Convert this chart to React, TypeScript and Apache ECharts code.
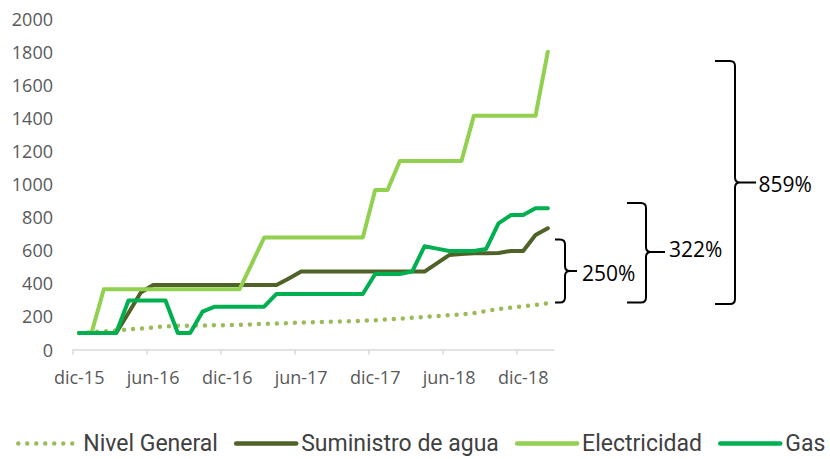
import React, { useEffect, useRef } from 'react';
import * as echarts from 'echarts';

const months = [
  'dic-15', 'ene-16', 'feb-16', 'mar-16', 'abr-16', 'may-16', 'jun-16', 'jul-16', 'ago-16', 'sep-16', 'oct-16', 'nov-16',
  'dic-16', 'ene-17', 'feb-17', 'mar-17', 'abr-17', 'may-17', 'jun-17', 'jul-17', 'ago-17', 'sep-17', 'oct-17', 'nov-17',
  'dic-17', 'ene-18', 'feb-18', 'mar-18', 'abr-18', 'may-18', 'jun-18', 'jul-18', 'ago-18', 'sep-18', 'oct-18', 'nov-18',
  'dic-18', 'ene-19', 'feb-19',
];

const nivelGeneral = [
  100, 104, 110, 116, 122, 127, 133, 140, 143, 144, 145, 146,
  147, 149, 152, 155, 157, 160, 163, 165, 167, 169, 171, 174,
  177, 182, 187, 192, 197, 202, 207, 211, 220, 232, 245, 253,
  262, 270, 279,
];

const suministroAgua = [
  100, 100, 100, 100, 221, 345, 390, 390, 390, 390, 390, 390,
  390, 390, 390, 390, 390, 430, 471, 471, 471, 471, 471, 471,
  471, 471, 471, 471, 471, 521, 571, 578, 582, 582, 584, 596,
  596, 692, 733,
];

const electricidad = [
  100, 100, 364, 364, 364, 364, 364, 364, 364, 364, 364, 364,
  364, 364, 520, 677, 677, 677, 677, 677, 677, 677, 677, 677,
  965, 965, 1140, 1140, 1140, 1140, 1140, 1140, 1413, 1413, 1413, 1413,
  1413, 1413, 1801,
];

const gas = [
  100, 100, 100, 100, 296, 296, 296, 296, 100, 100, 229, 259,
  259, 259, 259, 259, 336, 336, 336, 336, 336, 336, 336, 336,
  457, 457, 457, 471, 624, 610, 596, 596, 596, 608, 763, 813,
  813, 854, 854,
];

const seriesNames = ['Nivel General', 'Suministro de agua', 'Electricidad', 'Gas'];
const seriesData = [nivelGeneral, suministroAgua, electricidad, gas];
const seriesColors = ['#9bbb59', '#4f6228', '#92d050', '#00b050'];

const yTicks = [0, 200, 400, 600, 800, 1000, 1200, 1400, 1600, 1800, 2000];
const labelMonths = [0, 6, 12, 18, 24, 30, 36];

const braceLabels = ['250%', '322%', '859%'];

function bracePath(xl: number, xv: number, xt: number, yt: number, ym: number, yb: number, r = 5) {
  return [
    `M${xl},${yt}`,
    `L${xv - r},${yt}`,
    `Q${xv},${yt} ${xv},${yt + r}`,
    `L${xv},${ym - r}`,
    `Q${xv},${ym} ${xv + r},${ym}`,
    `L${xt},${ym}`,
    `M${xv + r},${ym}`,
    `Q${xv},${ym} ${xv},${ym + r}`,
    `L${xv},${yb - r}`,
    `Q${xv},${yb} ${xv - r},${yb}`,
    `L${xl},${yb}`,
  ].join(' ');
}

const braceLayout = [
  { xl: 555, xv: 565, xt: 577, yt: 239.5, ym: 271, yb: 302.5, lx: 582, ly: 272.5 },
  { xl: 627, xv: 646, xt: 665, yt: 203, ym: 252, yb: 302.5, lx: 669, ly: 249 },
  { xl: 715, xv: 735, xt: 756, yt: 61, ym: 182.5, yb: 304, lx: 758.5, ly: 183.5 },
];

braceLayout.forEach((b, i) => {
  echarts.graphic.registerShape(
    'brace' + i,
    echarts.graphic.extendPath(bracePath(b.xl, b.xv, b.xt, b.yt, b.ym, b.yb), {})
  );
});

export default function App() {
  const ref = useRef<HTMLDivElement>(null);

  useEffect(() => {
    if (!ref.current) return;
    const chart = echarts.init(ref.current, null, { renderer: 'svg' });

    const graphics: any[] = [];
    braceLayout.forEach((b, i) => {
      graphics.push({
        type: 'brace' + i,
        x: 0,
        y: 0,
        silent: true,
        style: { stroke: '#000000', lineWidth: 2, fill: 'none' },
      });
      graphics.push({
        type: 'text',
        x: b.lx,
        y: b.ly,
        silent: true,
        style: {
          text: braceLabels[i],
          fill: '#000000',
          fontSize: 21,
          fontFamily: '"Open Sans", sans-serif',
          verticalAlign: 'middle',
          align: 'left',
        },
      });
    });

    chart.setOption({
      animation: false,
      backgroundColor: '#ffffff',
      grid: { left: 73, right: 276, top: 18.8, bottom: 109.5, containLabel: false },
      legend: {
        data: seriesNames,
        left: 16,
        top: 432,
        padding: 0,
        itemWidth: 60,
        itemHeight: 14,
        itemGap: 16,
        itemStyle: { opacity: 0 },
        lineStyle: { width: 4.5, cap: 'round' },
        textStyle: { fontFamily: 'Roboto, sans-serif', fontSize: 23, color: '#404040' },
      },
      xAxis: {
        type: 'value',
        min: 0,
        max: months.length,
        splitLine: { show: false },
        axisLine: { show: true, lineStyle: { color: '#d9d9d9', width: 1.5 } },
        axisTick: {
          show: true,
          length: 5,
          customValues: labelMonths,
          lineStyle: { color: '#d9d9d9', width: 1.5 },
        },
        axisLabel: {
          customValues: labelMonths.map((m) => m + 0.5),
          formatter: (v: number) => months[Math.floor(v)] ?? '',
          color: '#595959',
          fontFamily: '"Open Sans", sans-serif',
          fontSize: 18,
          margin: 18,
        },
      },
      yAxis: {
        type: 'value',
        min: 0,
        max: 2000,
        interval: 200,
        splitLine: { show: false },
        axisLine: { show: false },
        axisTick: { show: false },
        axisLabel: {
          color: '#595959',
          fontFamily: '"Open Sans", sans-serif',
          fontSize: 18,
          margin: 20,
          formatter: (v: number) => (yTicks.includes(v) ? String(v) : ''),
        },
      },
      series: seriesNames.map((name, si) => ({
        name,
        type: 'line',
        symbol: 'none',
        data: seriesData[si].map((v, i) => [i + 0.5, v]),
        color: seriesColors[si],
        lineStyle:
          si === 0
            ? { color: seriesColors[si], width: 4.5, type: [0, 9], cap: 'round' }
            : { color: seriesColors[si], width: 4, cap: 'round', join: 'round' },
        emphasis: { disabled: true },
        z: 2 + si,
      })),
      graphic: graphics,
    });

    return () => chart.dispose();
  }, []);

  return (
    <div
      ref={ref}
      style={{ position: 'fixed', left: 0, top: 0, width: 830, height: 459, background: '#fff' }}
    />
  );
}
